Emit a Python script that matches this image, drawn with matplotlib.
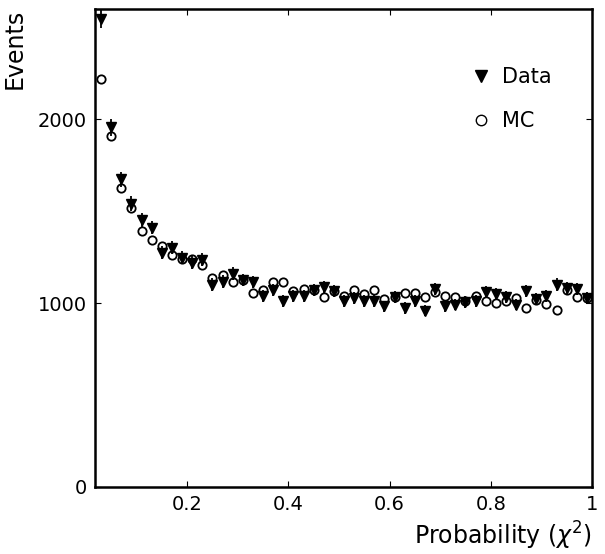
import numpy as np
import matplotlib
matplotlib.use("Agg")
import matplotlib.pyplot as plt
from matplotlib.lines import Line2D

# bin centres of Probability(chi^2)
prob = [0.03, 0.05, 0.07, 0.09, 0.11, 0.13, 0.15, 0.17, 0.19, 0.21,
        0.23, 0.25, 0.27, 0.29, 0.31, 0.33, 0.35, 0.37, 0.39, 0.41,
        0.43, 0.45, 0.47, 0.49, 0.51, 0.53, 0.55, 0.57, 0.59, 0.61,
        0.63, 0.65, 0.67, 0.69, 0.71, 0.73, 0.75, 0.77, 0.79, 0.81,
        0.83, 0.85, 0.87, 0.89, 0.91, 0.93, 0.95, 0.97, 0.99]

data_events = [2545, 1956, 1673, 1542, 1450, 1411, 1275, 1302, 1248, 1220,
               1237, 1101, 1117, 1161, 1126, 1115, 1037, 1073, 1013, 1037,
               1041, 1070, 1088, 1064, 1010, 1028, 1013, 1010, 983, 1034,
               974, 1010, 960, 1077, 983, 992, 1005, 1010, 1059, 1052,
               1034, 992, 1064, 1025, 1041, 1101, 1083, 1077, 1028]

mc_events = [2218, 1907, 1629, 1515, 1390, 1341, 1313, 1264, 1242, 1242,
             1205, 1138, 1155, 1117, 1128, 1057, 1070, 1115, 1113, 1068,
             1079, 1070, 1034, 1064, 1041, 1070, 1052, 1073, 1023, 1034,
             1055, 1055, 1034, 1062, 1037, 1034, 1010, 1037, 1010, 1001,
             1010, 1028, 974, 1015, 997, 965, 1073, 1034, 1028]

data_err = np.sqrt(np.array(data_events, dtype=float))

fig = plt.figure(figsize=(6.05, 5.54), dpi=100)
ax = fig.add_axes([95/605, 1-487/554, (592-95)/605, (487-9)/554])

ax.errorbar(prob, mc_events, yerr=None, fmt='o', ms=6, mfc='white',
            mec='black', mew=1.3, zorder=2)
ax.errorbar(prob, data_events, yerr=data_err, fmt='v', ms=6.5, color='black',
            ecolor='black', elinewidth=1.3, capsize=0, zorder=3)

ax.set_xlim(0.018, 1.0)
ax.set_ylim(0, 2600)
ax.set_xticks([0.2, 0.4, 0.6, 0.8, 1.0])
ax.set_xticklabels(['0.2', '0.4', '0.6', '0.8', '1'])
ax.set_yticks([0, 1000, 2000])
ax.tick_params(direction='in', length=4, width=0.8, top=True, right=True,
               labelsize=14, pad=6)
for s in ax.spines.values():
    s.set_linewidth(1.8)

ax.set_xlabel(r'Probability ($\chi^2$)', fontsize=17, ha='right', x=1.0, labelpad=4)
ax.set_ylabel('Events', fontsize=17, ha='right', y=1.0, labelpad=8)

handles = [Line2D([], [], ls='none', marker='v', ms=9, color='black'),
           Line2D([], [], ls='none', marker='o', ms=7.5, mfc='white', mec='black', mew=1.0)]
ax.legend(handles, ['Data', 'MC'], loc='upper left', bbox_to_anchor=(0.752, 0.878),
          frameon=False, fontsize=15, labelspacing=1.15, handletextpad=0.4,
          handlelength=1.2, borderaxespad=0, borderpad=0)

fig.savefig('out.png', dpi=100)
